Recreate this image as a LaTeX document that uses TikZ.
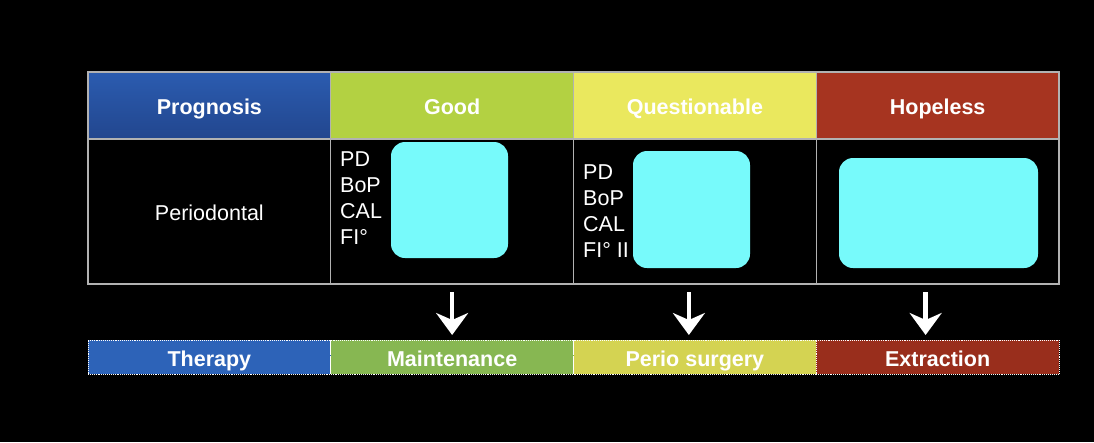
\documentclass[tikz,border=0pt]{standalone}
\usepackage{fontspec}
\setmainfont{Liberation Sans}
\usetikzlibrary{positioning,arrows.meta}
\definecolor{progblue}{HTML}{2B5CB0}
\definecolor{progdark}{HTML}{22468E}
\definecolor{goodgreen}{HTML}{B3D142}
\definecolor{questyellow}{HTML}{EAE85E}
\definecolor{hopered}{HTML}{A63420}
\definecolor{therblue}{HTML}{2D63B8}
\definecolor{maintgreen}{HTML}{87B752}
\definecolor{surgyellow}{HTML}{D4D352}
\definecolor{extrred}{HTML}{992E1C}
\definecolor{padcyan}{HTML}{77FAFB}
\begin{document}
\begin{tikzpicture}[x=1pt,y=-1pt,node distance=0pt,
  cell/.style={draw=gray!60,line width=1.2pt,outer sep=0pt,inner sep=0pt,
    minimum width=242.75pt,text=white,text height=19pt,text depth=1pt},
  head/.style={cell,minimum height=67pt,font=\fontsize{21.5}{26}\selectfont\bfseries},
  body/.style={cell,minimum height=145pt,font=\fontsize{21.5}{26}\selectfont},
  bar/.style={draw=white,densely dotted,line width=0.9pt,outer sep=0pt,inner sep=0pt,
    minimum width=242.75pt,minimum height=34pt,text=white,text height=19pt,text depth=1pt,
    font=\fontsize{21.5}{26}\selectfont\bfseries},
  pad/.style={fill=padcyan,rounded corners=14pt,inner sep=0pt},
  crit/.style={text=white,align=left,inner sep=0pt,font=\fontsize{21.5}{25.7}\selectfont},
  bigarrow/.style={white,line width=4.5pt,-{Stealth[length=22pt,width=32pt,inset=7pt]}}]
\fill[black] (0,0) rectangle (1094,442);
\node[head,top color=progblue,bottom color=progdark,anchor=north west] (progn) at (88,72) {Prognosis};
\node[head,fill=goodgreen] (good) [right=of progn] {Good};
\node[head,fill=questyellow] (quest) [right=of good] {Questionable};
\node[head,fill=hopered] (hope) [right=of quest] {Hopeless};
\node[body] (perio) [below=of progn] {Periodontal};
\node[body] (goodbody) [below=of good] {};
\node[body] (questbody) [below=of quest] {};
\node[body] (hopebody) [below=of hope] {};
\node[pad,minimum width=117pt,minimum height=116pt] (goodpad) at (449.5,200) {};
\node[pad,minimum width=117pt,minimum height=117pt] (questpad) at (691.5,209.5) {};
\node[pad,minimum width=199pt,minimum height=110pt] (hopepad) at (938.5,213) {};
\node[crit,anchor=north west] (goodcrit) at (340,152) {PD\\BoP\\CAL\\FI°};
\node[crit,anchor=north west] (questcrit) at (583,165) {PD\\BoP\\CAL\\FI° II};
\node[bar,fill=therblue,anchor=north west] (therapy) at (88,340) {Therapy};
\node[bar,fill=maintgreen] (maint) [right=of therapy] {Maintenance};
\node[bar,fill=surgyellow] (surg) [right=of maint] {Perio surgery};
\node[bar,fill=extrred] (extr) [right=of surg] {Extraction};
\draw[bigarrow,shorten <=8pt,shorten >=5pt] (goodbody.south) -- (maint.north);
\draw[bigarrow,shorten <=8pt,shorten >=5pt] ([xshift=-6pt]questbody.south) -- ([xshift=-6pt]surg.north);
\draw[bigarrow,shorten <=8pt,shorten >=5pt] ([xshift=-12pt]hopebody.south) -- ([xshift=-12pt]extr.north);
\end{tikzpicture}
\end{document}
